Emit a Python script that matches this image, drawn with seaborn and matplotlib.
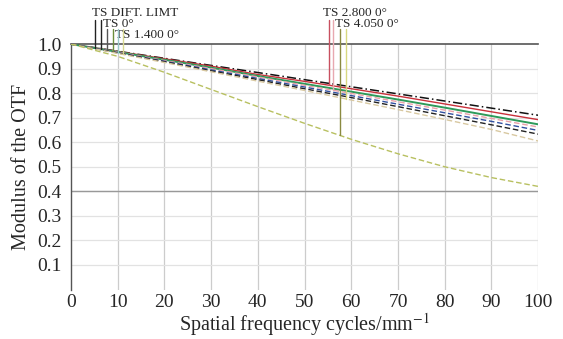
import numpy as np
import pandas as pd
import matplotlib
matplotlib.use("Agg")
import matplotlib.pyplot as plt
import seaborn as sns

# MTF curves (spatial frequency 0..100 cycles/mm)
freq = [0, 10, 20, 30, 40, 50, 60, 70, 80, 90, 100]
mtf_dift = [1.00, 0.971, 0.942, 0.913, 0.884, 0.855, 0.826, 0.797, 0.768, 0.739, 0.71]
mtf_red = [1.00, 0.97, 0.94, 0.91, 0.876, 0.848, 0.818, 0.788, 0.756, 0.724, 0.692]
mtf_green = [1.00, 0.968, 0.936, 0.904, 0.87, 0.838, 0.806, 0.774, 0.741, 0.707, 0.673]
mtf_pink = [1.00, 0.967, 0.933, 0.90, 0.866, 0.832, 0.799, 0.765, 0.731, 0.697, 0.662]
mtf_blue = [1.00, 0.965, 0.93, 0.895, 0.86, 0.825, 0.79, 0.755, 0.72, 0.685, 0.648]
mtf_black = [1.00, 0.964, 0.928, 0.891, 0.855, 0.818, 0.782, 0.745, 0.708, 0.671, 0.633]
mtf_tan = [1.00, 0.962, 0.925, 0.887, 0.849, 0.811, 0.772, 0.733, 0.693, 0.652, 0.605]
mtf_low = [1.00, 0.95, 0.885, 0.815, 0.745, 0.677, 0.612, 0.553, 0.50, 0.456, 0.42]

series_names = ["dift", "red", "green", "pink", "blue", "black", "tan", "low"]
series_vals = [mtf_dift, mtf_red, mtf_green, mtf_pink, mtf_blue, mtf_black, mtf_tan, mtf_low]
series_colors = ["#111111", "#c8303a", "#2e9a5a", "#e8a0a8", "#3050a0", "#222222", "#d8c8a0", "#b8c060"]
series_dashes = [(6, 2, 1, 2), "", "", (4, 2), (4, 2), (4, 2), (4, 2), (4, 2)]
series_widths = [1.1, 1.0, 1.4, 1.0, 1.0, 1.0, 1.0, 1.0]

# legend marker lines (Zemax style): frequency, top, series they drop to, colour
mark_freq = [5.1, 6.4, 7.7, 9.0, 10.1, 11.1, 55.2, 56.1, 57.6, 58.9]
mark_top = [1.10, 1.10, 1.06, 1.06, 1.06, 1.06, 1.10, 1.10, 1.06, 1.06]
mark_series = ["dift", "red", "green", "pink", "blue", "tan", "red", "pink", "low", "tan"]
mark_colors = ["#222222", "#222222", "#555555", "#6b8e3a", "#99c8c8", "#d8d890",
               "#c85060", "#e8a8b0", "#8a8a40", "#d8d880"]

labels = ["TS DIFT. LIMT", "TS 0°", "TS 1.400 0°", "TS 2.800 0°", "TS 4.050 0°"]
label_x = [4.6, 6.8, 9.4, 54.0, 56.6]
label_y = [1.128, 1.083, 1.037, 1.128, 1.083]

df = pd.DataFrame({
    "freq": np.tile(freq, len(series_names)),
    "mtf": np.concatenate(series_vals),
    "series": np.repeat(series_names, len(freq)),
})

sns.set_theme(style="white")
plt.rcParams["font.family"] = ["Liberation Serif", "DejaVu Serif"]
plt.rcParams["mathtext.fontset"] = "stix"

fig = plt.figure(figsize=(5.63, 3.39), dpi=100)
ax = fig.add_axes([0.126, 0.146, 0.830, 0.724])

ax.set_xlim(0, 100)
ax.set_ylim(0, 1.0)
ax.set_xticks(range(0, 101, 10))
ax.set_yticks([0.1 * i for i in range(1, 11)])
ax.set_yticklabels([f"{0.1 * i:.1f}" for i in range(1, 11)])

for v in range(10, 101, 10):
    ax.axvline(v, color="#cccccc", lw=0.9, zorder=0)
for i in range(1, 10):
    ax.axhline(0.1 * i, color="#e2e2e2", lw=0.9, zorder=0)
ax.axhline(0.4, color="#999999", lw=1.0, zorder=0)

sns.lineplot(data=df, x="freq", y="mtf", hue="series", style="series",
             hue_order=series_names, style_order=series_names,
             palette=dict(zip(series_names, series_colors)),
             dashes=dict(zip(series_names, series_dashes)),
             size="series", sizes=dict(zip(series_names, series_widths)),
             legend=False, ax=ax, zorder=3)

lookup = dict(zip(series_names, series_vals))
for f, top, s, c in zip(mark_freq, mark_top, mark_series, mark_colors):
    bottom = np.interp(f, freq, lookup[s])
    ax.plot([f, f], [bottom, top], color=c, lw=1.0, clip_on=False, zorder=4)

for t, x, y in zip(labels, label_x, label_y):
    ax.text(x, y, t, fontsize=9.5, ha="left", va="center", clip_on=False)

for side in ["right", "bottom"]:
    ax.spines[side].set_visible(False)
ax.spines["left"].set_color("#555555")
ax.spines["top"].set_color("#555555")
ax.spines["left"].set_linewidth(1.0)
ax.spines["top"].set_linewidth(1.2)

ax.tick_params(axis="both", labelsize=14, length=0)
ax.tick_params(axis="x", pad=3)
ax.tick_params(axis="y", pad=7)
ax.set_xlabel("Spatial frequency cycles/mm$^{-1}$", fontsize=14.5, labelpad=0)
ax.set_ylabel("Modulus of the OTF", fontsize=14.5, labelpad=4)

fig.savefig("out.png", dpi=100)
